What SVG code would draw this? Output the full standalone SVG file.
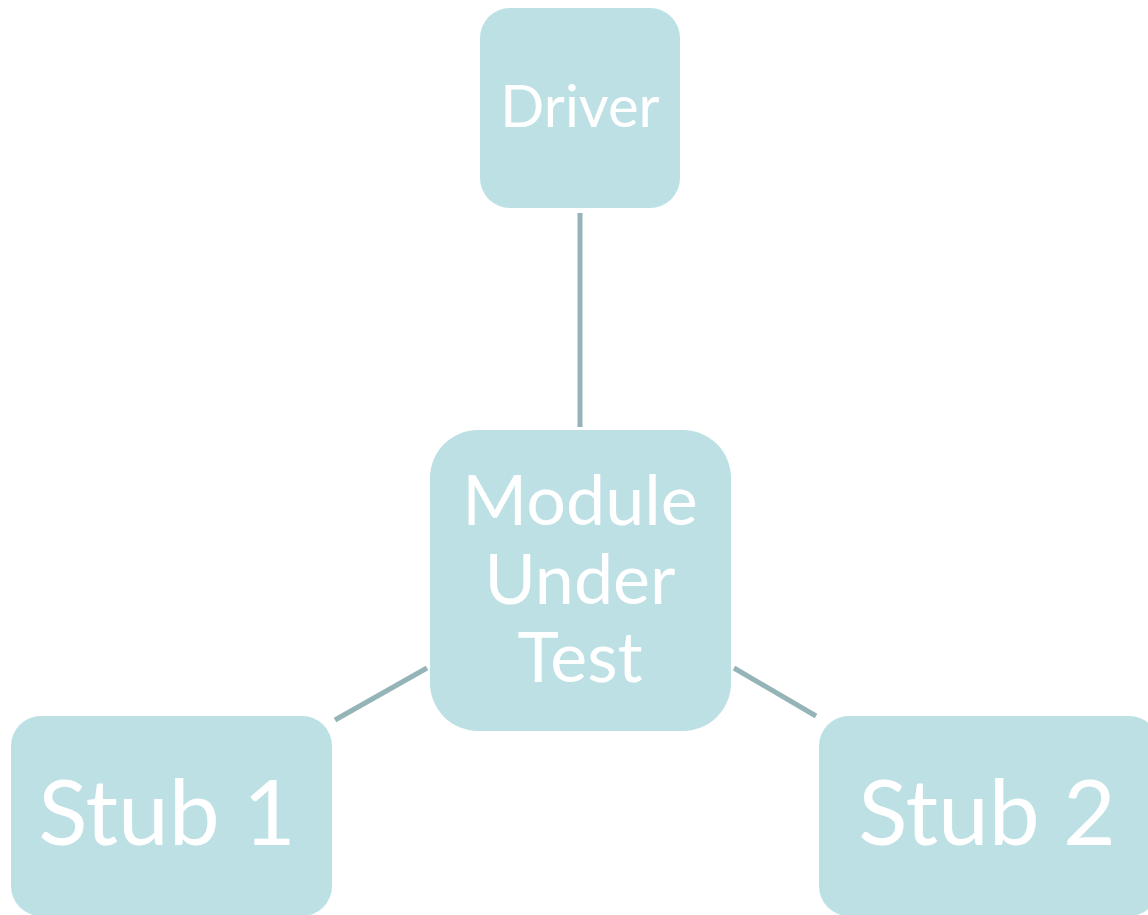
<svg xmlns="http://www.w3.org/2000/svg" width="1148" height="915" viewBox="0 0 1148 915">
<style>
.box{fill:#bce0e3}
.lbl{fill:#ffffff;font-family:Lato,"Open Sans",sans-serif;text-anchor:middle}
.conn{stroke:#95b4b7;stroke-width:5;fill:none}
</style>
<rect width="1148" height="915" fill="#ffffff"/>
<g id="connectors">
<line class="conn" x1="580" y1="213" x2="580" y2="427"/>
<line class="conn" x1="335" y1="720" x2="427" y2="668"/>
<line class="conn" x1="734" y1="668" x2="816" y2="716"/>
</g>
<g id="driver">
<rect class="box" x="480" y="8" width="200" height="200" rx="30"/>
<text class="lbl" x="580" y="127" font-size="58">Driver</text>
</g>
<g id="module">
<rect class="box" x="430" y="430" width="301" height="301" rx="48"/>
<text class="lbl" x="580" y="525" font-size="70">Module</text>
<text class="lbl" x="580" y="604" font-size="70">Under</text>
<text class="lbl" x="580" y="682" font-size="70">Test</text>
</g>
<g id="stub1">
<rect class="box" x="11" y="716" width="321" height="200" rx="30"/>
<text class="lbl" x="167" y="845" font-size="91">Stub 1</text>
</g>
<g id="stub2">
<rect class="box" x="819" y="716" width="340" height="200" rx="30"/>
<text class="lbl" x="987" y="845" font-size="91">Stub 2</text>
</g>
</svg>
